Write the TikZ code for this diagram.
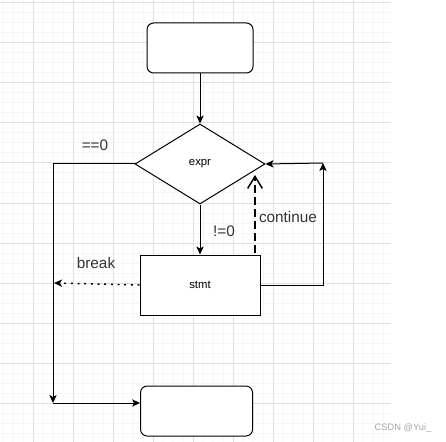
\documentclass[tikz,border=0pt]{standalone}
\usepackage{fontspec}
\setmainfont{Liberation Sans}
\usepackage{xcolor}
\usepackage{tikz}
\usetikzlibrary{shapes.geometric, positioning, arrows.meta}
\definecolor{gridmajor}{RGB}{224,224,224}
\definecolor{gridminor}{RGB}{246,246,246}
\definecolor{textgray}{RGB}{51,51,51}

\begin{document}
\begin{tikzpicture}[
    x=0.75pt, y=-0.75pt,
    node distance=37.5pt,
    terminal/.style={
        rectangle,
        rounded corners=5pt,
        minimum width=79.5pt,
        minimum height=37.5pt,
        draw=black,
        line width=0.75pt,
        fill=white
    },
    decision/.style={
        diamond,
        aspect=1.625,
        minimum width=97.5pt,
        minimum height=60pt,
        inner sep=0pt,
        draw=black,
        line width=0.75pt,
        fill=white,
        font=\fontsize{8.5}{10}\selectfont
    },
    process/.style={
        rectangle,
        minimum width=90pt,
        minimum height=45pt,
        draw=black,
        line width=0.75pt,
        fill=white,
        font=\fontsize{8.5}{10}\selectfont
    },
    edgetext/.style={text=textgray, font=\fontsize{11.5}{13}\selectfont},
    watermark/.style={text=black!35, font=\fontsize{7}{8}\selectfont},
    arrow/.style={line width=0.75pt, -{Stealth[length=6pt,width=5.5pt,inset=1.5pt]}},
    gridline/.style={line width=0.75pt}
]
\useasboundingbox (0,0) rectangle (446,442);

% Grid
\foreach \gx in {3,13,...,383} \draw[gridline, gridminor] (\gx,0) -- (\gx,442);
\foreach \gy in {3,13,...,433} \draw[gridline, gridminor] (0,\gy) -- (391,\gy);
\foreach \gx in {33,73,...,353} \draw[gridline, gridmajor] (\gx,0) -- (\gx,442);
\foreach \gy in {3,43,...,403} \draw[gridline, gridmajor] (0,\gy) -- (391,\gy);

% Nodes
\node (start) [terminal] at (200,48) {};
\node (expr) [decision, below=of start] {expr};
\node (stmt) [process, below=of expr] {stmt};
\node (end) [terminal, minimum width=84pt, below=52.5pt of stmt, xshift=-2.6pt] {};

\coordinate (loopr) at (323,163);
\coordinate (loopl) at (53,403);
\coordinate (brk) at (54,283);
\coordinate (contbase) at (255,253);
\coordinate (conttip) at (255,175);

% Labels
\node (eqzero) [edgetext] at (95,145) {==0};
\node (nezero) [edgetext] at (224,231) {!=0};
\node (brktext) [edgetext] at (96,263) {break};
\node (conttext) [edgetext] at (288,217) {continue};
\node (mark) [watermark] at (403,428) {CSDN @Yui\_};

% Arrows
\draw [arrow] (start) -- (expr);
\draw [arrow] (expr) -- (stmt);
\draw [arrow] (stmt.east) -| (loopr);
\draw [arrow] (loopr) -- (expr.east);
\draw [arrow] (expr.west) -| (loopl);
\draw [arrow] (loopl) -- (end.west |- loopl);
\draw [line width=1.1pt, dash pattern=on 1.5pt off 3.5pt, -{Stealth[length=6pt,width=5.5pt,inset=1.5pt]}] (stmt.west) -- (brk);
\draw [line width=1pt, dash pattern=on 6pt off 3pt, -{Straight Barb[length=9pt,width=11pt,line width=1.1pt]}] (contbase) -- (conttip);

\end{tikzpicture}
\end{document}
